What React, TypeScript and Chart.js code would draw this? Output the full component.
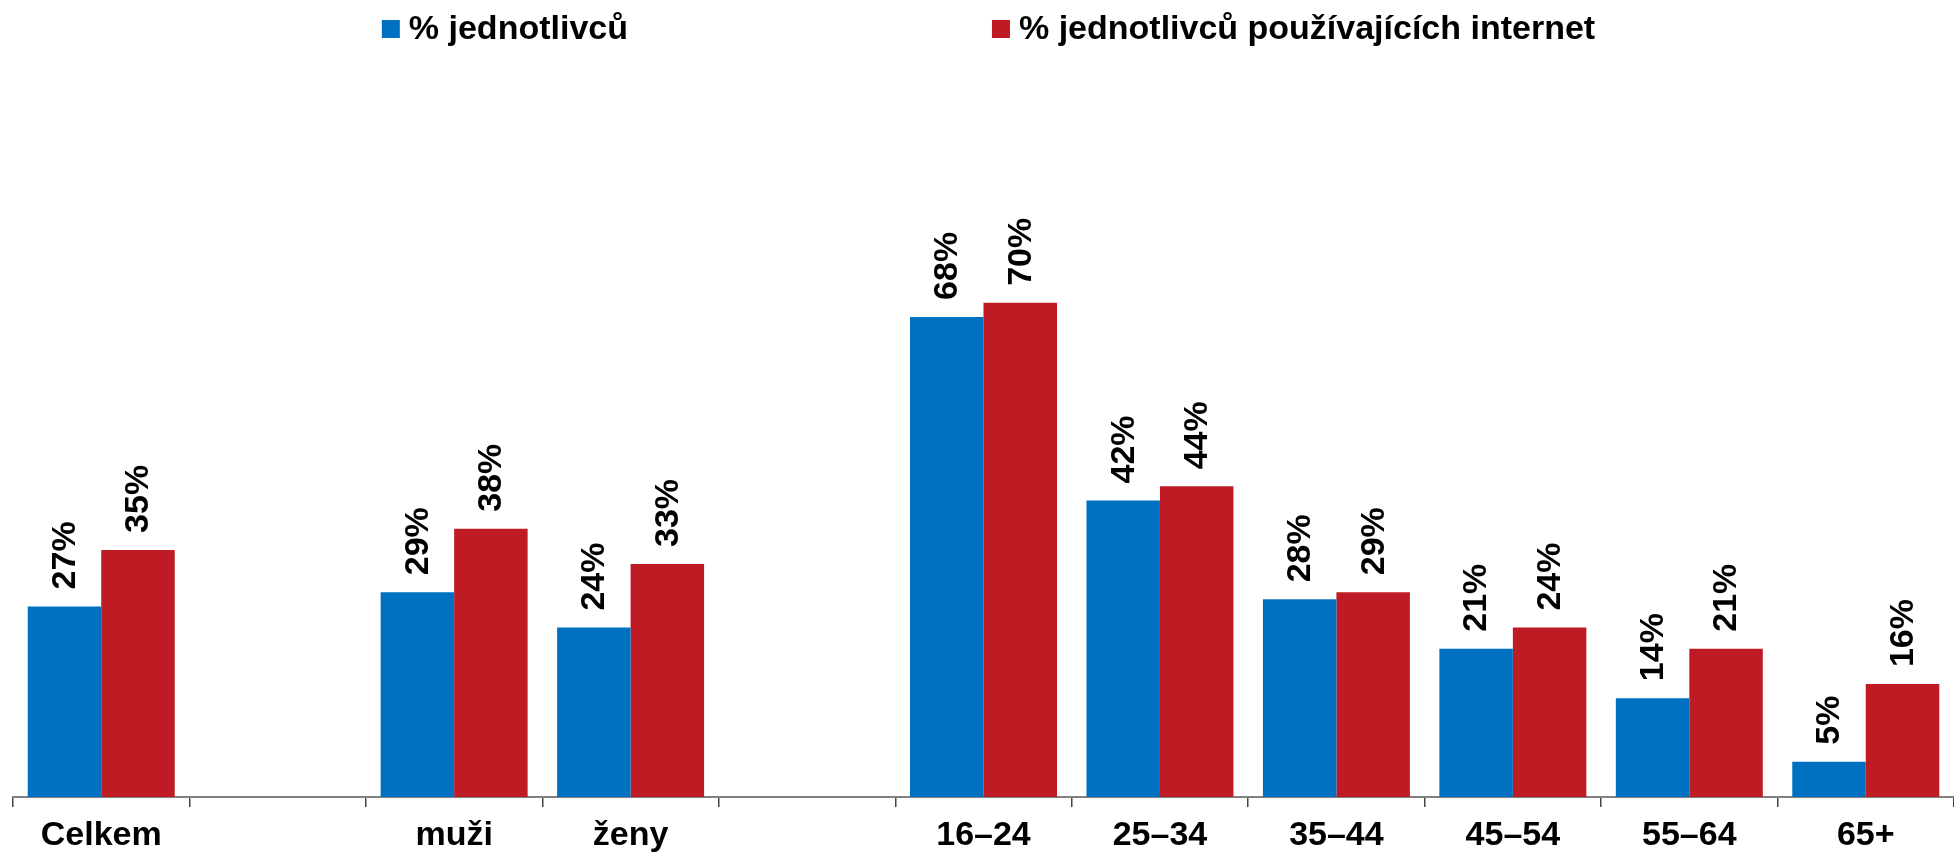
import React, { useEffect, useRef } from "react";
import { Chart, registerables } from "chart.js";

Chart.register(...registerables);

const categories = ["Celkem", "", "muži", "ženy", "", "16–24", "25–34", "35–44", "45–54", "55–64", "65+"];
const seriesNames = ["% jednotlivců", "% jednotlivců používajících internet"];
const individuals = [27, null, 29, 24, null, 68, 42, 28, 21, 14, 5];
const internetUsers = [35, null, 38, 33, null, 70, 44, 29, 24, 21, 16];
const seriesColors = ["#0070C0", "#BE1B24"];

const FONT = "'Liberation Sans', Arial, sans-serif";

const valueLabels = {
  id: "valueLabels",
  afterDatasetsDraw(chart: any) {
    const ctx = chart.ctx;
    ctx.save();
    ctx.font = `bold 34px ${FONT}`;
    ctx.fillStyle = "#000";
    ctx.textAlign = "left";
    ctx.textBaseline = "middle";
    chart.data.datasets.forEach((ds: any, di: number) => {
      const meta = chart.getDatasetMeta(di);
      meta.data.forEach((bar: any, i: number) => {
        const v = ds.data[i];
        if (v === null || v === undefined) return;
        ctx.save();
        ctx.translate(bar.x, bar.y - 17);
        ctx.rotate(-Math.PI / 2);
        ctx.fillText(`${v}%`, 0, 1);
        ctx.restore();
      });
    });
    ctx.restore();
  },
};

const customLegend = {
  id: "customLegend",
  afterDraw(chart: any) {
    const ctx = chart.ctx;
    ctx.save();
    ctx.font = `bold 34px ${FONT}`;
    ctx.textBaseline = "middle";
    ctx.textAlign = "left";
    const box = 18;
    const gapText = 9;
    const gapItems = 364;
    const widths = chart.data.datasets.map((d: any) => box + gapText + ctx.measureText(d.label).width);
    const total = widths[0] + gapItems + widths[1];
    const center = (chart.chartArea.left + chart.chartArea.right) / 2 + 5;
    let x = center - total / 2;
    const cy = 29;
    chart.data.datasets.forEach((d: any, i: number) => {
      ctx.fillStyle = d.backgroundColor;
      ctx.fillRect(x, cy - box / 2, box, box);
      ctx.fillStyle = "#000";
      ctx.fillText(d.label, x + box + gapText, cy + 1);
      x += widths[i] + gapItems;
    });
    ctx.restore();
  },
};

export default function App() {
  const ref = useRef<HTMLCanvasElement | null>(null);
  useEffect(() => {
    document.body.style.margin = "0";
    document.body.style.overflow = "hidden";
    if (!ref.current) return;
    const chart = new Chart(ref.current, {
      type: "bar",
      data: {
        labels: categories,
        datasets: [
          { label: seriesNames[0], data: individuals, backgroundColor: seriesColors[0], borderWidth: 0 },
          { label: seriesNames[1], data: internetUsers, backgroundColor: seriesColors[1], borderWidth: 0 },
        ],
      },
      options: {
        animation: false,
        responsive: false,
        devicePixelRatio: 1,
        layout: { padding: { top: 91, left: 13, right: 0, bottom: 0 } },
        datasets: { bar: { categoryPercentage: 0.833, barPercentage: 1, skipNull: false } },
        plugins: { legend: { display: false }, tooltip: { enabled: false } },
        scales: {
          x: {
            offset: true,
            afterFit: (scale: any) => {
              scale.height = 61;
            },
            grid: {
              display: true,
              offset: true,
              drawOnChartArea: false,
              drawTicks: true,
              tickLength: 10,
              color: "#444",
              lineWidth: 1.5,
            },
            border: { display: true, color: "#808080", width: 2 },
            ticks: {
              color: "#000",
              padding: 8,
              maxRotation: 0,
              autoSkip: false,
              font: { family: FONT, size: 34, weight: "bold" },
            },
          },
          y: {
            display: false,
            min: 0,
            max: 100,
          },
        },
      },
      plugins: [valueLabels, customLegend],
    });
    return () => chart.destroy();
  }, []);
  return (
    <div style={{ width: "1954px", height: "858px", overflow: "hidden" }}>
      <canvas ref={ref} width={1954} height={858} style={{ display: "block" }} />
    </div>
  );
}
